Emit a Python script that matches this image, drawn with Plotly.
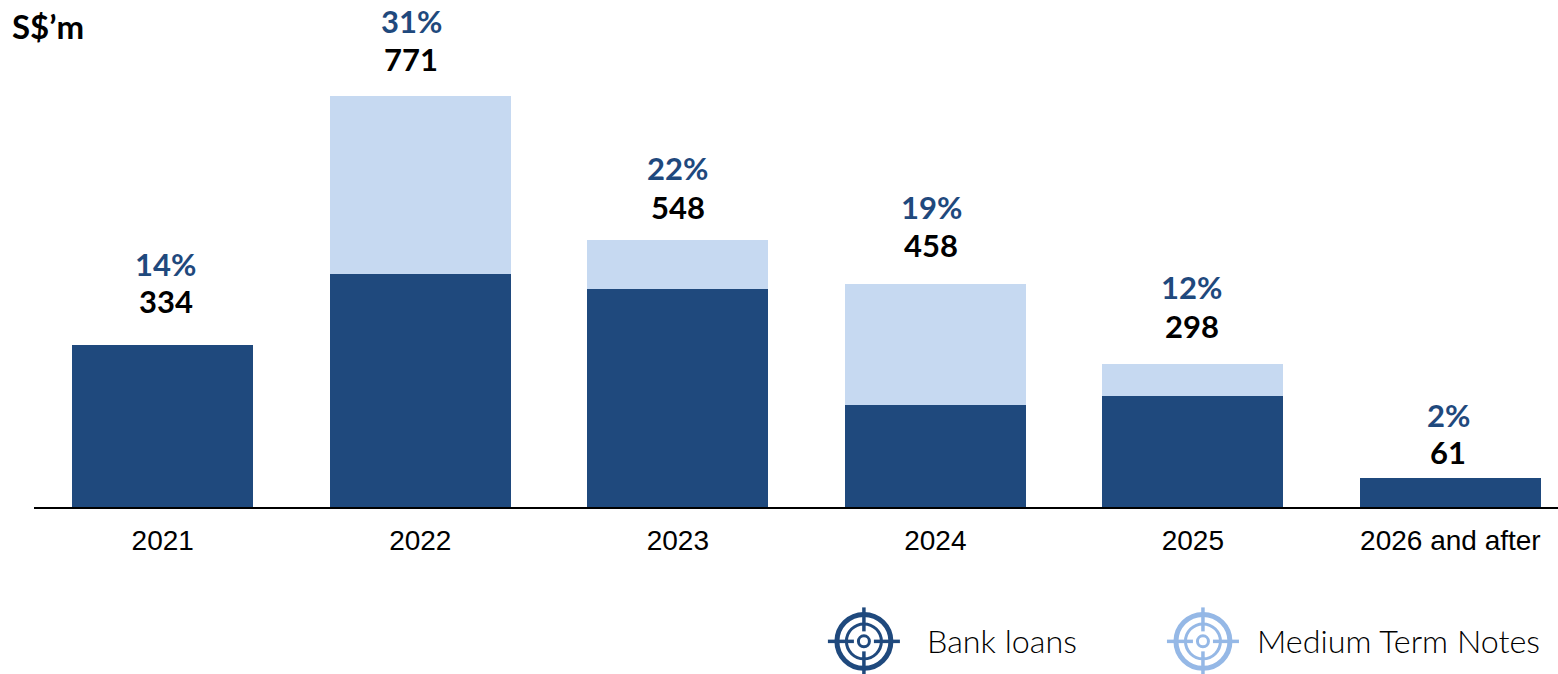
import plotly.graph_objects as go

# ---- data ----
categories = ["2021", "2022", "2023", "2024", "2025", "2026 and after"]
bank_loans = [332, 479, 448, 209, 227, 60]
medium_term_notes = [0, 364, 100, 249, 67, 0]
total_labels = ["334", "771", "548", "458", "298", "61"]
share_labels = ["14%", "31%", "22%", "19%", "12%", "2%"]
series_names = ["Bank loans", "Medium Term Notes"]

# ---- style ----
W, H = 1558, 674
DARK, LIGHT, ICON_LIGHT = "#1F497D", "#C6D9F1", "#95B8E6"
PCT_COLOR = "#1F497D"
HEAD_FONT = "Lato"
PL, PB = 34.2, 507.5    # plot left, baseline (px)
PX_PER_UNIT = 0.4875
total_shift = [44, 37, 33, 39, 38, 26]
share_shift = [81, 75, 72, 77, 77, 63]
x_shift = [3, -9, 0, -4, -1, -2]

fig = go.Figure()
fig.add_bar(x=categories, y=bank_loans, name=series_names[0], marker=dict(color=DARK, line_width=0), width=0.703)
fig.add_bar(x=categories, y=medium_term_notes, name=series_names[1], marker=dict(color=LIGHT, line_width=0), width=0.703)

annotations = []
for i, c in enumerate(categories):
    top = bank_loans[i] + medium_term_notes[i]
    annotations.append(dict(x=i, y=top, text=f"<b>{total_labels[i]}</b>", showarrow=False, xshift=x_shift[i], yshift=total_shift[i],
                            font=dict(family=HEAD_FONT, size=31, color="black")))
    annotations.append(dict(x=i, y=top, text=f"<b>{share_labels[i]}</b>", showarrow=False, xshift=x_shift[i], yshift=share_shift[i],
                            font=dict(family=HEAD_FONT, size=31, color=PCT_COLOR)))

def px(x): return (x - PL) / (W - PL)
def py(y): return (PB - y) / PB

annotations.append(dict(xref="paper", yref="paper", x=px(10), y=py(26), xanchor="left", yanchor="middle", showarrow=False,
                        text="<b>S$’m</b>", font=dict(family=HEAD_FONT, size=33, color="black")))

shapes = []
def icon(cx, cy, color):
    for r, w in ((27, 5), (17.5, 3), (5.5, 3)):
        shapes.append(dict(type="circle", xref="paper", yref="paper", x0=px(cx - r), x1=px(cx + r), y0=py(cy + r), y1=py(cy - r),
                           line=dict(color=color, width=w)))
    for (x0, y0, x1, y1) in ((cx - 36, cy, cx - 10, cy), (cx + 10, cy, cx + 36, cy), (cx, cy - 34, cx, cy - 10), (cx, cy + 10, cx, cy + 34)):
        shapes.append(dict(type="line", xref="paper", yref="paper", x0=px(x0), x1=px(x1), y0=py(y0), y1=py(y1),
                           line=dict(color=color, width=3.5)))

icon(864, 642, DARK)
icon(1203, 642, ICON_LIGHT)
annotations.append(dict(xref="paper", yref="paper", x=px(925), y=py(641), xanchor="left", yanchor="middle", showarrow=False,
                        text=series_names[0], font=dict(family=HEAD_FONT, size=32.3, weight=300, color="black")))
annotations.append(dict(xref="paper", yref="paper", x=px(1255), y=py(641), xanchor="left", yanchor="middle", showarrow=False,
                        text=series_names[1], font=dict(family=HEAD_FONT, size=32.3, weight=300, color="black")))

fig.update_layout(
    width=W, height=H, barmode="stack", showlegend=False,
    plot_bgcolor="white", paper_bgcolor="white",
    margin=dict(l=PL, r=0, t=0, b=H - PB, pad=0),
    annotations=annotations, shapes=shapes,
    xaxis=dict(type="category", range=[-0.5, 5.418], showgrid=False, ticks="", showline=True, linecolor="black", linewidth=2,
               ticklabelstandoff=7,
               tickfont=dict(family="Liberation Sans", size=28, color="black")),
    yaxis=dict(range=[0, PB / PX_PER_UNIT], visible=False),
)
fig.write_html("out.html", config={"displayModeBar": False},
               post_script="document.body.style.margin='0';document.body.style.overflow='hidden';")
